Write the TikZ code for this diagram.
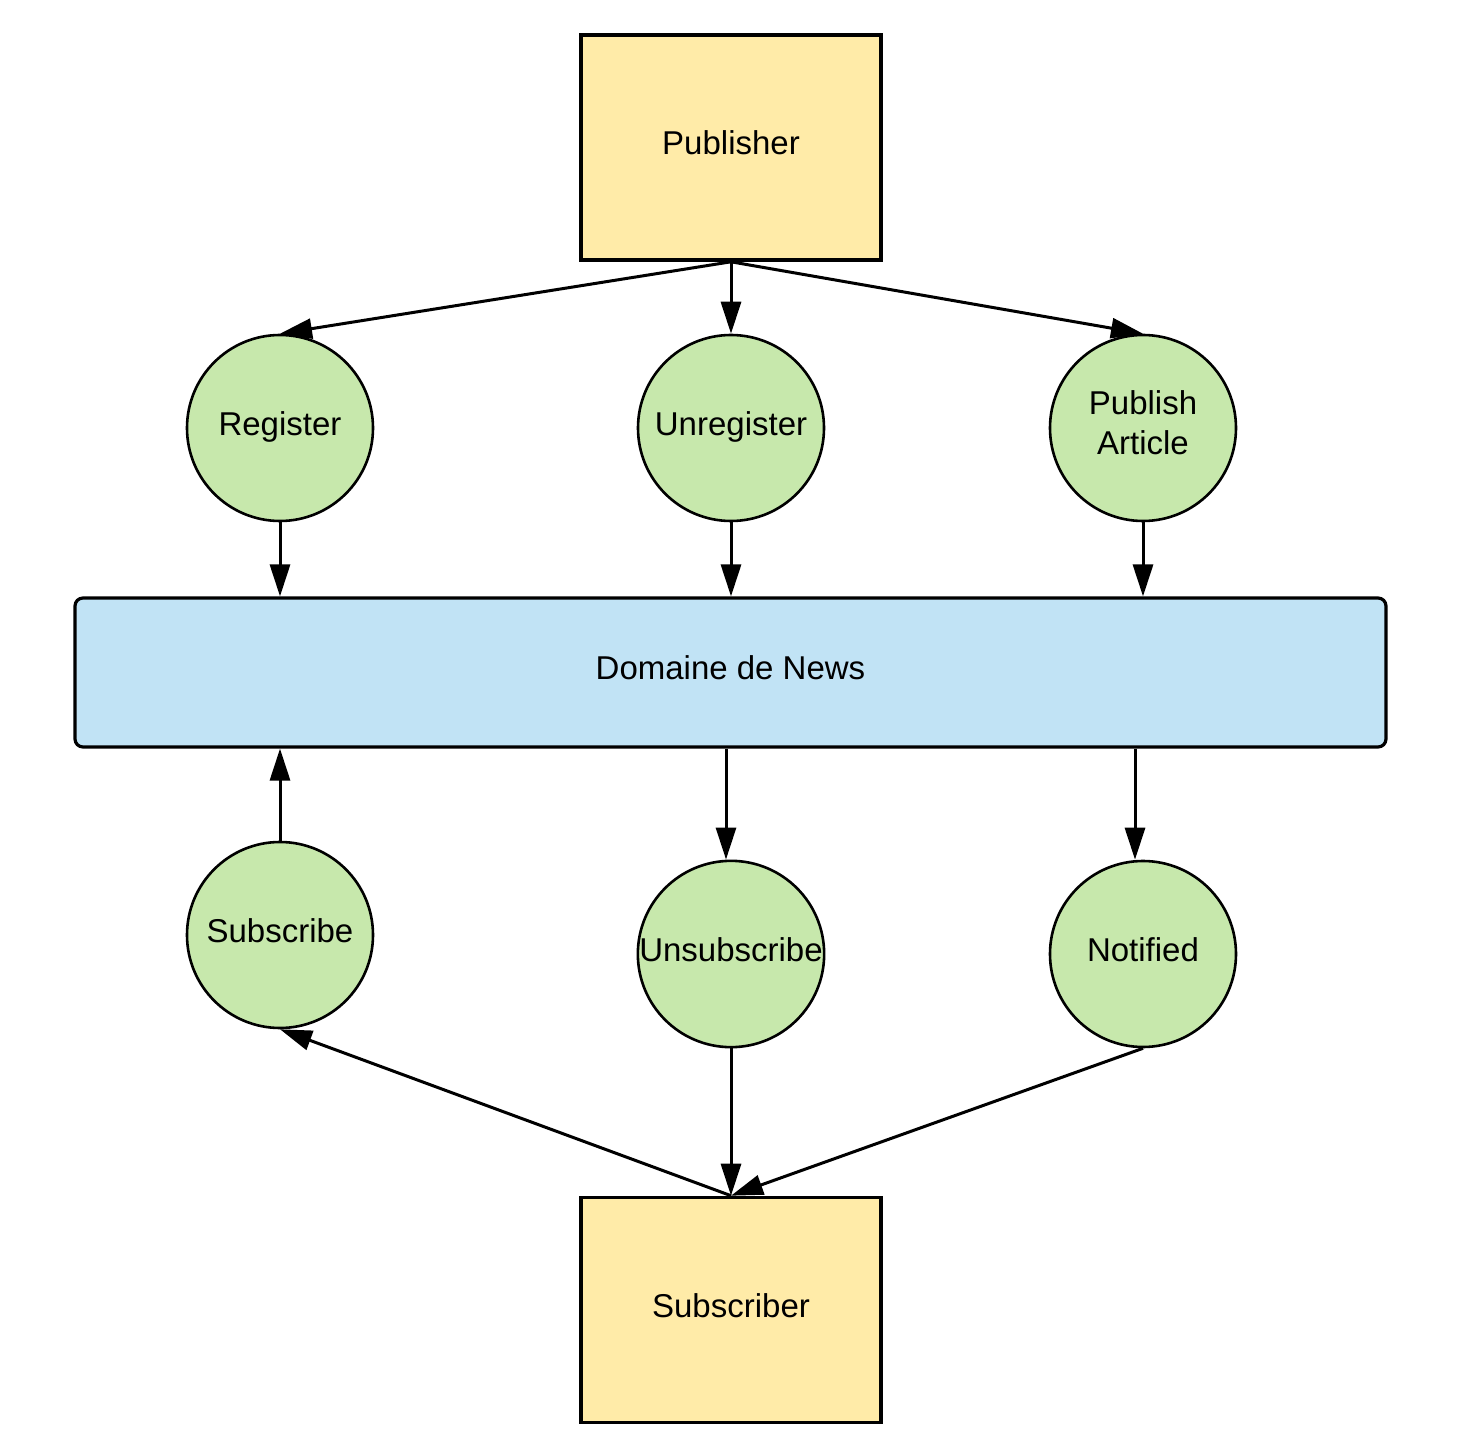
\documentclass[tikz,border=0pt]{standalone}
\usepackage{fontspec}
\setmainfont{Liberation Sans}
\usetikzlibrary{arrows.meta}

\definecolor{actorfill}{RGB}{255,235,168}
\definecolor{procfill}{RGB}{199,232,172}
\definecolor{domfill}{RGB}{193,227,245}

\begin{document}
\begin{tikzpicture}[x=0.5pt,y=0.5pt,yscale=-1,xscale=1,
    font=\fontsize{16.5}{20}\selectfont,text height=12pt,text depth=4.7pt,
    actor/.style={draw,line width=1.8pt,fill=actorfill,minimum width=150pt,minimum height=112.5pt},
    proc/.style={draw,circle,line width=1.3pt,fill=procfill,minimum size=93pt,inner sep=0pt,align=center},
    domainbox/.style={draw,line width=1.6pt,rounded corners=4pt,fill=domfill,minimum width=655.5pt,minimum height=74.5pt},
    flow/.style={line width=1.5pt,-{Triangle[length=16pt,width=10pt]}}]
    %set diagram to the size of the reference
    \useasboundingbox (0,0) rectangle (1463,1449);

    %Shape: Rectangle
    \node[actor] (pub) at (731,147.5) {Publisher};
    \node[actor] (sub) at (731,1310) {Subscriber};
    %Shape: Rounded Rectangle
    \node[domainbox] (dom) at (730.5,672.5) {Domaine de News};

    %Shape: Circle
    \node[proc] (reg) at (280,428) {Register};
    \node[proc] (unreg) at (731,428) {Unregister};
    \node[proc,text height=32pt,text depth=5.2pt] (art) at (1143,428) {Publish\\Article};
    \node[proc] (subs) at (280,935) {Subscribe};
    \node[proc] (unsub) at (731,954) {Unsubscribe};
    \node[proc] (notif) at (1143,954) {Notified};

    %Arrows from publisher
    \draw[flow] (pub.south) -- (reg.north);
    \draw[flow] (pub.south) -- (unreg.north);
    \draw[flow] (pub.south) -- (art.north);

    %Arrows into the domain
    \draw[flow] (reg.south) -- (reg.south |- dom.north);
    \draw[flow] (unreg.south) -- (unreg.south |- dom.north);
    \draw[flow] (art.south) -- (art.south |- dom.north);
    \draw[flow] (subs.north) -- (subs.north |- dom.south);

    %Arrows out of the domain
    \draw[flow] ([xshift=-2.5pt]dom.south -| unsub.north) -- ([xshift=-2.5pt]unsub.north);
    \draw[flow] ([xshift=-4pt]dom.south -| notif.north) -- ([xshift=-4pt]notif.north);

    %Arrows around the subscriber
    \draw[flow] (sub.north) -- (subs.south);
    \draw[flow] (unsub.south) -- (sub.north);
    \draw[flow] (notif.south) -- (sub.north);
\end{tikzpicture}
\end{document}
